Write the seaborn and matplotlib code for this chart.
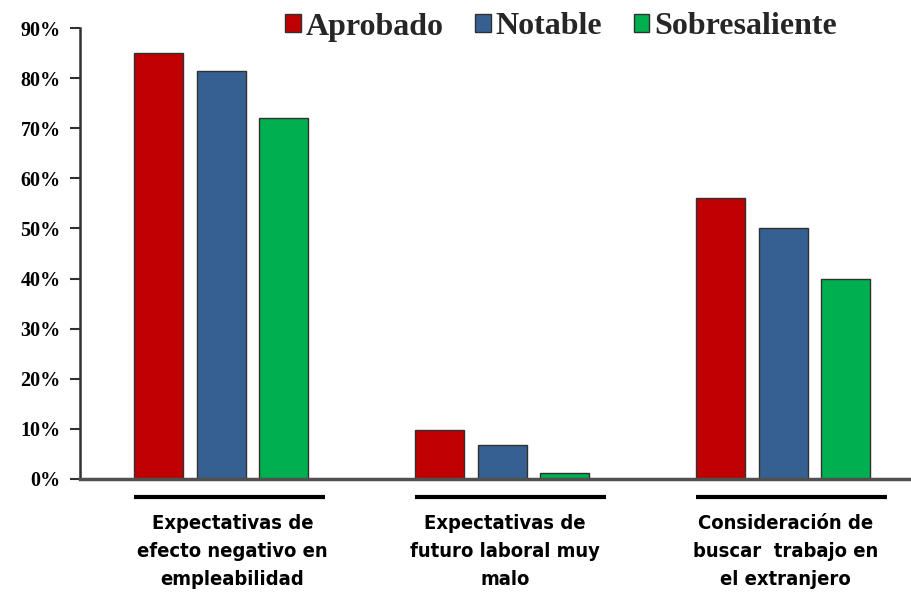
import matplotlib
matplotlib.use("Agg")
import matplotlib.pyplot as plt
import seaborn as sns
import pandas as pd
from matplotlib.patches import Patch
from matplotlib.ticker import FuncFormatter

categories = ["Expectativas de\nefecto negativo en\nempleabilidad",
              "Expectativas de\nfuturo laboral muy\nmalo",
              "Consideración de\nbuscar  trabajo en\nel extranjero"]
series = ["Aprobado", "Notable", "Sobresaliente"]
aprobado = [0.85, 0.098, 0.56]
notable = [0.815, 0.067, 0.50]
sobresaliente = [0.72, 0.012, 0.40]
colors = ["#C00000", "#376092", "#00B050"]

rows = []
for s, vals in zip(series, [aprobado, notable, sobresaliente]):
    for c, v in zip(categories, vals):
        rows.append({"cat": c, "serie": s, "val": v})
df = pd.DataFrame(rows)

sns.set_style("white")
fig = plt.figure(figsize=(9.12, 5.97), dpi=100)
ax = fig.add_axes([80/912, 118/597, 832/912, 451/597])

sns.barplot(data=df, x="cat", y="val", hue="serie", order=categories,
            hue_order=series, palette=colors, saturation=1, width=0.67, gap=0.22,
            edgecolor="#303030", linewidth=1.0, ax=ax, legend=False)

ax.set_ylim(0, 0.9)
ax.set_xlim(-0.502, 2.459)
ax.set_yticks([i/10 for i in range(10)])
ax.yaxis.set_major_formatter(FuncFormatter(lambda v, p: f"{v*100:.0f}%"))
for lbl in ax.get_yticklabels():
    lbl.set_fontweight("bold")
    lbl.set_fontsize(14.5)
    lbl.set_fontfamily("Liberation Serif")
    lbl.set_color("black")
ax.tick_params(axis="y", length=7, width=1.5, color="#303030", direction="out", left=True, pad=7)
ax.set_xticks([])
ax.set_xlabel("")
ax.set_ylabel("")
for side in ["top", "right"]:
    ax.spines[side].set_visible(False)
ax.spines["left"].set_color("#303030")
ax.spines["left"].set_linewidth(1.8)
ax.spines["bottom"].set_color("#505050")
ax.spines["bottom"].set_linewidth(2.5)

trans = ax.get_xaxis_transform()
offsets = [0.04, 0.01, 0.01]
for i, c in enumerate(categories):
    ax.plot([i-0.31, i+0.37], [-0.04, -0.04], transform=trans, color="black",
            lw=3, clip_on=False, solid_capstyle="butt")
    ax.text(i+offsets[i], -0.078, c, transform=trans, ha="center", va="top",
            fontsize=14.5, fontweight="bold", family="DejaVu Sans", color="black",
            fontstretch="condensed", linespacing=1.6)

handles = [Patch(facecolor=col, edgecolor="#303030", label=s) for col, s in zip(colors, series)]
fig.legend(handles=handles, loc="center", bbox_to_anchor=(561/912, 1-27/597), ncol=3,
           frameon=False, prop={"family": "Liberation Serif", "weight": "bold", "size": 23},
           handlelength=0.48, handleheight=0.48, handletextpad=0.15, columnspacing=1.0)

fig.savefig("out.png", dpi=100)
